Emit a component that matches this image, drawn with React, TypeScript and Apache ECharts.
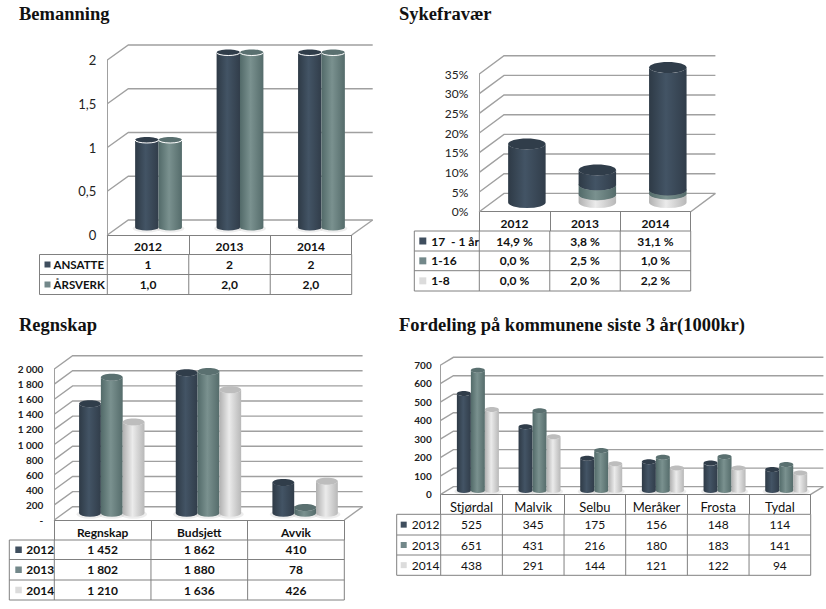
import React, { useEffect, useRef } from "react";
import * as echarts from "echarts";

const NAVY = { stops: ["#2e3a46", "#435465", "#313d4a"], cap: "#303d4a", swatch: "#3f4e5e" };
const GREEN = { stops: ["#526a69", "#7a918f", "#556c6b"], cap: "#5a7070", swatch: "#73888a" };
const LIGHT = { stops: ["#b0b0b0", "#ebebeb", "#b8b8b8"], cap: "#bdbdbd", swatch: "#dcdcdc" };

// --- data ---
const bemanningCats = ["2012", "2013", "2014"];
const ansatte = [1, 2, 2];
const aarsverk = [1, 2, 2];
const bemanningTicks = [0, 0.5, 1, 1.5, 2];

const sykefravaerCats = ["2012", "2013", "2014"];
const syk17 = [14.9, 3.8, 31.1];
const syk16 = [0, 2.5, 1.0];
const syk8 = [0, 2.0, 2.2];
const sykefravaerTicks = [0, 5, 10, 15, 20, 25, 30, 35];

const regnskapCats = ["Regnskap", "Budsjett", "Avvik"];
const regnskap2012 = [1452, 1862, 410];
const regnskap2013 = [1802, 1880, 78];
const regnskap2014 = [1210, 1636, 426];
const regnskapTicks = [0, 200, 400, 600, 800, 1000, 1200, 1400, 1600, 1800, 2000];

const kommuneCats = ["Stjørdal", "Malvik", "Selbu", "Meråker", "Frosta", "Tydal"];
const kommune2012 = [525, 345, 175, 156, 148, 114];
const kommune2013 = [651, 431, 216, 180, 183, 141];
const kommune2014 = [438, 291, 144, 121, 122, 94];
const kommuneTicks = [0, 100, 200, 300, 400, 500, 600, 700];

const comma = (d: number) => (v: number) => v.toFixed(d).replace(".", ",");
const spaced = (v: number) => String(v).replace(/\B(?=(\d{3})+$)/g, " ");

const FONT = "Lato";
const TITLE_FONT = "Liberation Serif";
const LINE = "#808080";
const GRIDLINE = "#a0a0a0";

const panels = [
  {
    title: "Bemanning", titleX: 19, titleY: 4,
    cats: bemanningCats, ticks: bemanningTicks, max: 2,
    grid: { left: 107.3, top: 60, width: 244.4, height: 175 },
    dx: 21, dy: 15, barW: 23.4, ry: 3, rim: true, stacked: false, shadow: true,
    yLabel: (v: number) => comma(v % 1 ? 1 : 0)(v),
    yFont: { fontSize: 13, fontWeight: "normal" }, labelMargin: 11, catMargin: 5,
    catFont: { fontSize: 12, fontWeight: "bold" },
    series: [
      { name: "ANSATTE", values: ansatte, color: NAVY, cell: comma(0) },
      { name: "ÅRSVERK", values: aarsverk, color: GREEN, cell: comma(1) },
    ],
    table: { left: 39.5, rows: [254.5, 274.5, 294.5], swatchX: 5, swatch: 6, textX: 14, bold: true, size: 12, nameSize: 11.5 },
  },
  {
    title: "Sykefravær", titleX: 399, titleY: 4,
    cats: sykefravaerCats, ticks: sykefravaerTicks, max: 35,
    grid: { left: 479.3, top: 74, width: 211.4, height: 137.7 },
    dx: 24.7, dy: 18.3, barW: 37.5, ry: 5.5, rim: false, stacked: true, shadow: false,
    yLabel: (v: number) => v + "%",
    yFont: { fontSize: 12, fontWeight: "normal" }, labelMargin: 11, catMargin: 6,
    catFont: { fontSize: 12, fontWeight: "bold" },
    series: [
      { name: "1-8", values: syk8, color: LIGHT, cell: (v: number) => comma(1)(v) + " %" },
      { name: "1-16", values: syk16, color: GREEN, cell: (v: number) => comma(1)(v) + " %" },
      { name: "17  - 1 år", values: syk17, color: NAVY, cell: (v: number) => comma(1)(v) + " %" },
    ],
    tableOrder: [2, 1, 0],
    table: { left: 414.3, rows: [231, 251, 270.7, 291], swatchX: 5, swatch: 7, textX: 17, bold: true, size: 12, nameSize: 12 },
  },
  {
    title: "Regnskap", titleX: 19, titleY: 315,
    cats: regnskapCats, ticks: regnskapTicks, max: 2000,
    grid: { left: 54.3, top: 369, width: 290, height: 151 },
    dx: 18.3, dy: 13.3, barW: 21.8, ry: 3.5, rim: false, stacked: false, shadow: true,
    yLabel: (v: number) => (v === 0 ? "-" : spaced(v)),
    yFont: { fontSize: 10, fontWeight: "bold" }, labelMargin: 11, catMargin: 6,
    catFont: { fontSize: 12, fontWeight: "bold" },
    series: [
      { name: "2012", values: regnskap2012, color: NAVY, cell: spaced },
      { name: "2013", values: regnskap2013, color: GREEN, cell: spaced },
      { name: "2014", values: regnskap2014, color: LIGHT, cell: spaced },
    ],
    table: { left: 9.3, rows: [540, 559.5, 580, 600], swatchX: 6, swatch: 6.5, textX: 17, bold: true, size: 12, nameSize: 12 },
  },
  {
    title: "Fordeling på kommunene siste 3 år(1000kr)", titleX: 399, titleY: 315,
    cats: kommuneCats, ticks: kommuneTicks, max: 700,
    grid: { left: 440.7, top: 365, width: 370, height: 129.3 },
    dx: 12.7, dy: 7.7, barW: 14, ry: 2.5, rim: false, stacked: false, shadow: true,
    yLabel: (v: number) => String(v),
    yFont: { fontSize: 10, fontWeight: "bold" }, labelMargin: 9, catMargin: 6,
    catFont: { fontSize: 13, fontWeight: "normal" },
    series: [
      { name: "2012", values: kommune2012, color: NAVY, cell: String },
      { name: "2013", values: kommune2013, color: GREEN, cell: String },
      { name: "2014", values: kommune2014, color: LIGHT, cell: String },
    ],
    table: { left: 396.7, rows: [514.3, 535, 555, 575.3], swatchX: 4, swatch: 6, textX: 15, bold: false, size: 12, nameSize: 12 },
  },
];

function wallItem(p: any) {
  return (params: any, api: any) => {
    const c = params.coordSys;
    const tick = api.value(1);
    const [, y] = api.coord([0, tick]);
    const style = { stroke: GRIDLINE, lineWidth: 1.4, fill: "none" };
    const children: any[] = [
      {
        type: "polyline",
        shape: { points: [[c.x, y], [c.x + p.dx, y - p.dy], [c.x + c.width + p.dx, y - p.dy]] },
        style,
      },
    ];
    if (params.dataIndex === 0) {
      children.push({
        type: "line",
        shape: { x1: c.x + c.width, y1: y, x2: c.x + c.width + p.dx, y2: y - p.dy },
        style,
      });
    }
    return { type: "group", children };
  };
}

function cylinderBase(p: any, sIdx: number, api: any) {
  const cat = api.value(0);
  const v = api.value(1);
  const base = api.value(2);
  const [cx0, yTop] = api.coord([cat, base + v]);
  const [, yBot] = api.coord([cat, base]);
  const n = p.series.length;
  const off = p.stacked ? 0 : (sIdx - (n - 1) / 2) * p.barW;
  const cx = cx0 + p.dx / 2 + off;
  return { v, base, cx, yTop: yTop - p.dy / 2, yBot: yBot - p.dy / 2, rx: p.barW / 2, ry: p.ry };
}

function shadowItem(p: any, sIdx: number) {
  return (_params: any, api: any) => {
    const g = cylinderBase(p, sIdx, api);
    if (g.base !== 0 || !p.shadow) return { type: "group", children: [] };
    return {
      type: "ellipse",
      shape: { cx: g.cx, cy: g.yBot + 1, rx: g.rx + 2.5, ry: g.ry + 1 },
      style: { fill: "rgba(0,0,0,0.07)" },
    };
  };
}

function cylinderItem(p: any, sIdx: number, color: any) {
  return (_params: any, api: any) => {
    const g = cylinderBase(p, sIdx, api);
    if (g.v === 0) return { type: "group", children: [] };
    const { cx, rx, ry, yTop, yBot } = g;
    const L = cx - rx;
    const R = cx + rx;
    const d =
      `M${L} ${yTop}L${L} ${yBot}A${rx} ${ry} 0 0 0 ${R} ${yBot}` +
      `L${R} ${yTop}A${rx} ${ry} 0 0 1 ${L} ${yTop}Z`;
    const children: any[] = [
      {
        type: "path",
        shape: { pathData: d },
        style: {
          fill: {
            type: "linear", x: 0, y: 0, x2: 1, y2: 0,
            colorStops: [
              { offset: 0, color: color.stops[0] },
              { offset: 0.45, color: color.stops[1] },
              { offset: 1, color: color.stops[2] },
            ],
          },
        },
      },
      { type: "ellipse", shape: { cx, cy: yTop, rx, ry }, style: { fill: color.cap } },
    ];
    if (p.rim) {
      children.push({
        type: "path",
        shape: { pathData: `M${L} ${yTop}A${rx} ${ry} 0 0 0 ${R} ${yTop}` },
        style: { fill: "none", stroke: "#ffffff", lineWidth: 1 },
      });
    }
    return { type: "group", children };
  };
}

function tableGraphics(p: any) {
  const els: any[] = [];
  const t = p.table;
  const gLeft = p.grid.left;
  const colW = p.grid.width / p.cats.length;
  const right = gLeft + p.grid.width;
  const rows: number[] = t.rows;
  const lineStyle = { stroke: LINE, lineWidth: 1 };
  const order: number[] = p.tableOrder || p.series.map((_: any, i: number) => i);
  rows.forEach((y) => {
    els.push({ type: "line", silent: true, shape: { x1: t.left, y1: y, x2: right, y2: y }, style: lineStyle });
  });
  const vx = [t.left, gLeft, ...p.cats.map((_: any, i: number) => gLeft + colW * (i + 1))];
  vx.forEach((x: number) => {
    els.push({
      type: "line", silent: true,
      shape: { x1: x, y1: rows[0], x2: x, y2: rows[rows.length - 1] },
      style: lineStyle,
    });
  });
  const weight = t.bold ? "bold " : "";
  const font = `${weight}${t.size}px ${FONT}`;
  const nameFont = `${weight}${t.nameSize}px ${FONT}`;
  order.forEach((si, r) => {
    const s = p.series[si];
    const yc = (rows[r] + rows[r + 1]) / 2;
    els.push({
      type: "rect", silent: true,
      shape: { x: t.left + t.swatchX, y: yc - t.swatch / 2, width: t.swatch, height: t.swatch },
      style: { fill: s.color.swatch },
    });
    els.push({
      type: "text", silent: true,
      style: { text: s.name, x: t.left + t.textX, y: yc, fill: "#111", font: nameFont, textAlign: "left", textVerticalAlign: "middle" },
    });
    s.values.forEach((v: number, c: number) => {
      els.push({
        type: "text", silent: true,
        style: { text: s.cell(v), x: gLeft + colW * (c + 0.5), y: yc, fill: "#111", font, textAlign: "center", textVerticalAlign: "middle" },
      });
    });
  });
  return els;
}

function buildOption() {
  const series: any[] = [];
  panels.forEach((p, i) => {
    const axisIdx = { xAxisIndex: i, yAxisIndex: i };
    series.push({
      type: "custom", ...axisIdx, z: 1, silent: true,
      renderItem: wallItem(p),
      encode: { x: 0, y: 1 },
      data: p.ticks.map((t) => [0, t]),
    });
    const bases = p.cats.map(() => 0);
    p.series.forEach((s, si) => {
      const data = s.values.map((v, c) => {
        const base = p.stacked ? bases[c] : 0;
        bases[c] += v;
        return [c, v, base];
      });
      series.push({
        type: "custom", ...axisIdx, z: 2, silent: true,
        renderItem: shadowItem(p, si),
        encode: { x: 0, y: 1 },
        data,
      });
      series.push({
        type: "custom", ...axisIdx, z: 3 + si, silent: true, name: s.name,
        renderItem: cylinderItem(p, si, s.color),
        encode: { x: 0, y: 1 },
        data,
      });
    });
  });
  return {
    animation: false,
    backgroundColor: "#ffffff",
    title: panels.map((p) => ({
      text: p.title, left: p.titleX, top: p.titleY, padding: 0,
      textStyle: { fontFamily: TITLE_FONT, fontSize: 18.5, fontWeight: "bold", color: "#111" },
    })),
    grid: panels.map((p) => ({ ...p.grid, containLabel: false })),
    xAxis: panels.map((p, i) => ({
      type: "category", gridIndex: i, data: p.cats, boundaryGap: true,
      axisLine: { show: true, onZero: false, lineStyle: { color: LINE, width: 1 } },
      axisTick: { show: true, length: p.table.rows[0] - (p.grid.top + p.grid.height), alignWithLabel: false, lineStyle: { color: LINE } },
      axisLabel: { interval: 0, margin: p.catMargin, color: "#111", fontFamily: FONT, ...p.catFont },
      splitLine: { show: false },
    })),
    yAxis: panels.map((p, i) => ({
      type: "value", gridIndex: i, min: 0, max: p.max, interval: p.ticks[1] - p.ticks[0],
      axisLine: { show: true, lineStyle: { color: GRIDLINE, width: 1 } },
      axisTick: { show: false },
      splitLine: { show: false },
      axisLabel: { margin: p.labelMargin, color: "#222", fontFamily: FONT, formatter: p.yLabel, ...p.yFont },
    })),
    graphic: { elements: panels.flatMap(tableGraphics) },
    series,
  };
}

export default function App() {
  const ref = useRef<HTMLDivElement>(null);
  useEffect(() => {
    const chart = echarts.init(ref.current!, null, { renderer: "svg" });
    chart.setOption(buildOption() as any);
    return () => chart.dispose();
  }, []);
  return <div ref={ref} style={{ position: "absolute", left: 0, top: 0, width: 826, height: 609 }} />;
}
